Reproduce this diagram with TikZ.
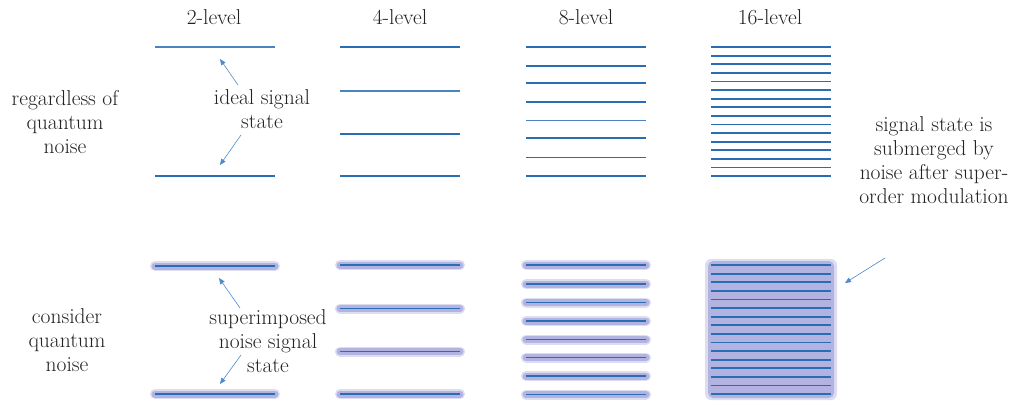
\documentclass[tikz,border=0pt]{standalone}
\usetikzlibrary{arrows.meta}
\definecolor{lineblue}{HTML}{2B6DB2}
\definecolor{arrblue}{HTML}{4F8BC9}
\definecolor{halo}{HTML}{B3B3E2}
\definecolor{txt}{HTML}{222222}
\tikzset{
  lvl/.style={draw=lineblue, line width=1.8pt},
  lvlthin/.style={draw=lineblue!85, line width=1.1pt},
  glow/.style={draw=halo, line width=7pt, line cap=round},
  glowsoft/.style={draw=halo!45, line width=10pt, line cap=round},
  arr/.style={draw=arrblue, line width=0.6pt, -{Triangle[length=6pt,width=5pt]}},
  lbl/.style={text=txt, font=\fontsize{21.5}{23.8}\selectfont, align=center, inner sep=0pt},
}
\begin{document}
\begin{tikzpicture}[x=1pt,y=-1pt]
\useasboundingbox (0,0) rectangle (1021,402);
% titles
\node[lbl] (t2) at (214,17) {2-level};
\node[lbl] (t4) at (400,17) {4-level};
\node[lbl] (t8) at (586,17) {8-level};
\node[lbl] (t16) at (770,17) {16-level};
% left labels
\node[lbl] (reg) at (65,122) {regardless of\\quantum\\noise};
\node[lbl] (con) at (67,340) {consider\\quantum\\noise};
\node[lbl] (ideal) at (262,109) {ideal signal\\state};
\node[lbl] (sup) at (268,341) {superimposed\\noise signal\\state};
\node[lbl] (sub) at (934,160) {signal state is\\submerged by\\noise after super-\\order modulation};
% ---- top row ----
\draw[lvlthin] (155,47) -- (275,47);
\draw[lvl] (155,176) -- (275,176);
\foreach \y in {47,134,176} \draw[lvl] (340,\y) -- (460,\y);
\draw[lvlthin] (340,91) -- (460,91);
\foreach \y in {47,65.7,83,102,138,157.5,176} \draw[lvl] (526,\y) -- (646,\y);
\draw[lvlthin] (526,120.5) -- (646,120.5);
\foreach \i in {0,...,15} \draw[lvl] (711,47+\i*8.6) -- (831,47+\i*8.6);
% ---- bottom row ----
\foreach \y in {266,394} {\draw[glowsoft] (155,\y) -- (275,\y); \draw[glow] (155,\y) -- (275,\y); \draw[lvl] (155,\y) -- (275,\y);}
\foreach \y in {265,308.5,351.5,394} {\draw[glowsoft] (340,\y) -- (460,\y); \draw[glow] (340,\y) -- (460,\y); \draw[lvl] (340,\y) -- (460,\y);}
\foreach \y in {265,284,302.5,321,339.5,357.5,376,394.5} {\draw[glowsoft] (526,\y) -- (646,\y); \draw[glow] (526,\y) -- (646,\y); \draw[lvl] (526,\y) -- (646,\y);}
\fill[halo!45, rounded corners=6pt] (705,259) rectangle (837,400);
\fill[halo, rounded corners=5pt] (708,261) rectangle (834,398);
\foreach \i in {0,...,15} \draw[lvl] (711,265+\i*8.6) -- (831,265+\i*8.6);
% ---- arrows ----
\coordinate (a1s) at (238,85);  \coordinate (a1e) at (220,59);
\coordinate (a2s) at (241,135); \coordinate (a2e) at (220,165);
\coordinate (b1s) at (240,308); \coordinate (b1e) at (219,278);
\coordinate (b2s) at (241,355); \coordinate (b2e) at (220,384);
\coordinate (cs) at (885,258);  \coordinate (ce) at (845,283);
\draw[arr] (a1s) -- (a1e);
\draw[arr] (a2s) -- (a2e);
\draw[arr] (b1s) -- (b1e);
\draw[arr] (b2s) -- (b2e);
\draw[arr] (cs) -- (ce);
\end{tikzpicture}
\end{document}
